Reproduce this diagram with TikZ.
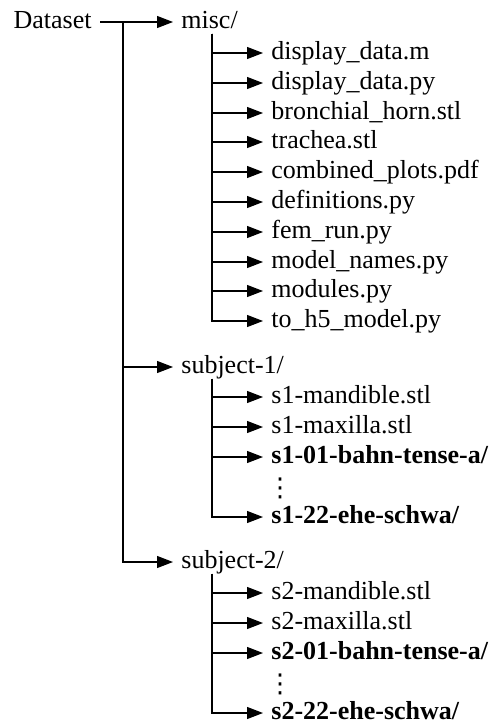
\documentclass[tikz,border=0pt]{standalone}
\usepackage{fontspec}
\setmainfont{Liberation Serif}
\newfontfamily\dotsfont{DejaVu Sans}
\usetikzlibrary{arrows.meta}

\begin{document}
\begin{tikzpicture}[x=0.5pt, y=-0.5pt,
      entry/.style={anchor=west, inner ysep=0pt, inner xsep=4pt, text height=9pt,
        text depth=2.4pt, font=\fontsize{13}{15}\selectfont},
      folder/.style={entry, font=\fontsize{13}{15}\selectfont\bfseries},
      more/.style={inner sep=0pt, font=\fontsize{13}{15}\dotsfont},
      link/.style={-{Triangle[length=8pt, width=6pt]}, line width=0.6pt}]
      % \draw [help lines] grid(492,723);
      \useasboundingbox (0,0) rectangle (492,723);
      \node[entry, anchor=east] (dataset) at (100,22) {Dataset};
      \coordinate (trunk) at (123,22);
      \node[entry] (misc) at (173,22) {misc/};
      \node[entry] (subone) at (173,367) {subject-1/};
      \node[entry] (subtwo) at (173,562) {subject-2/};
      \node[entry] (m1) at (263,53) {display\_data.m};
      \node[entry] (m2) at (263,83) {display\_data.py};
      \node[entry] (m3) at (263,113) {bronchial\_horn.stl};
      \node[entry] (m4) at (263,142) {trachea.stl};
      \node[entry] (m5) at (263,172) {combined\_plots.pdf};
      \node[entry] (m6) at (263,202) {definitions.py};
      \node[entry] (m7) at (263,232) {fem\_run.py};
      \node[entry] (m8) at (263,262) {model\_names.py};
      \node[entry] (m9) at (263,291) {modules.py};
      \node[entry] (m10) at (263,321) {to\_h5\_model.py};
      \node[entry] (a1) at (263,397) {s1-mandible.stl};
      \node[entry] (a2) at (263,427) {s1-maxilla.stl};
      \node[folder] (a3) at (263,457) {s1-01-bahn-tense-a/};
      \node[more] (adots) at (280,488) {⋮};
      \node[folder] (a4) at (263,517) {s1-22-ehe-schwa/};
      \node[entry] (b1) at (263,593) {s2-mandible.stl};
      \node[entry] (b2) at (263,623) {s2-maxilla.stl};
      \node[folder] (b3) at (263,653) {s2-01-bahn-tense-a/};
      \node[more] (bdots) at (280,684) {⋮};
      \node[folder] (b4) at (263,713) {s2-22-ehe-schwa/};
      \draw[link] (dataset.east) -- (misc.west);
      \draw[link] (trunk) |- (subone.west);
      \draw[link] (trunk) |- (subtwo.west);
      \draw[link] ([xshift=19.5pt]misc.south west) |- (m1.west);
      \draw[link] ([xshift=19.5pt]misc.south west) |- (m2.west);
      \draw[link] ([xshift=19.5pt]misc.south west) |- (m3.west);
      \draw[link] ([xshift=19.5pt]misc.south west) |- (m4.west);
      \draw[link] ([xshift=19.5pt]misc.south west) |- (m5.west);
      \draw[link] ([xshift=19.5pt]misc.south west) |- (m6.west);
      \draw[link] ([xshift=19.5pt]misc.south west) |- (m7.west);
      \draw[link] ([xshift=19.5pt]misc.south west) |- (m8.west);
      \draw[link] ([xshift=19.5pt]misc.south west) |- (m9.west);
      \draw[link] ([xshift=19.5pt]misc.south west) |- (m10.west);
      \draw[link] ([xshift=19.5pt]subone.south west) |- (a1.west);
      \draw[link] ([xshift=19.5pt]subone.south west) |- (a2.west);
      \draw[link] ([xshift=19.5pt]subone.south west) |- (a3.west);
      \draw[link] ([xshift=19.5pt]subone.south west) |- (a4.west);
      \draw[link] ([xshift=19.5pt]subtwo.south west) |- (b1.west);
      \draw[link] ([xshift=19.5pt]subtwo.south west) |- (b2.west);
      \draw[link] ([xshift=19.5pt]subtwo.south west) |- (b3.west);
      \draw[link] ([xshift=19.5pt]subtwo.south west) |- (b4.west);
    \end{tikzpicture}
\end{document}
